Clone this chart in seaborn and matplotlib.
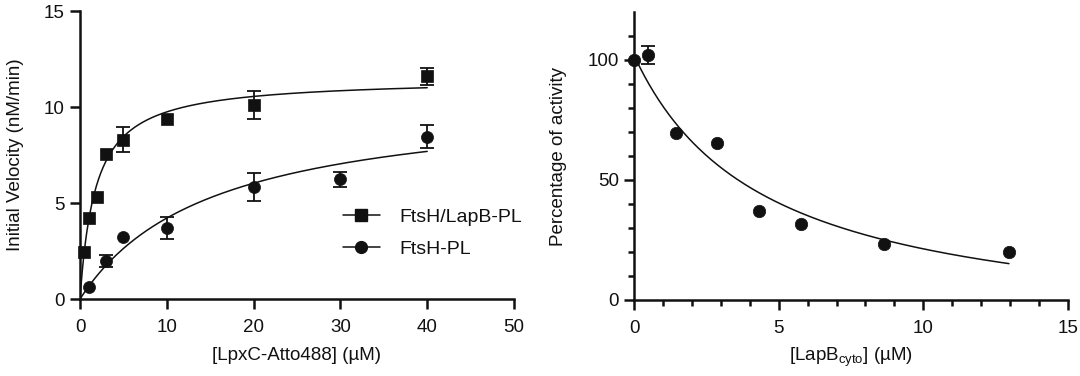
import numpy as np
import pandas as pd
import matplotlib
matplotlib.use("Agg")
import matplotlib.pyplot as plt
import seaborn as sns
from matplotlib.lines import Line2D
from matplotlib.ticker import FixedLocator

# ---------------- Left panel data ----------------
lpxc_conc_lapb = [0.5, 1, 2, 3, 5, 10, 20, 40]
velocity_lapb = [2.45, 4.2, 5.3, 7.55, 8.3, 9.4, 10.1, 11.6]
err_lapb = [0, 0, 0, 0, 0.65, 0, 0.75, 0.43]

lpxc_conc_ftsh = [1, 3, 5, 10, 20, 30, 40]
velocity_ftsh = [0.6, 1.98, 3.22, 3.7, 5.82, 6.24, 8.46]
err_ftsh = [0, 0.3, 0, 0.58, 0.73, 0.4, 0.62]

# Michaelis-Menten fit parameters (Vmax, Km)
fit_lapb = (11.5, 1.8)
fit_ftsh = (10.6, 15.15)

series_labels = ["FtsH/LapB-PL", "FtsH-PL"]

# ---------------- Right panel data ----------------
lapb_cyto_conc = [0, 0.48, 1.44, 2.87, 4.31, 5.76, 8.63, 12.96]
activity_pct = [100, 102.2, 69.7, 65.5, 36.9, 31.5, 23.3, 19.9]
activity_err = [0, 3.7, 0, 0, 0, 0, 0, 0]
# hyperbolic decay fit parameters (top, bottom, K)
fit_inhib = (102, -15, 4.5)

# ---------------- Style ----------------
sns.set_theme(style="ticks")
plt.rcParams["font.family"] = ["Liberation Sans", "DejaVu Sans"]
plt.rcParams["mathtext.fontset"] = "custom"
plt.rcParams["mathtext.rm"] = "Liberation Sans"
FS = 13.5
INK = "#111111"

fig = plt.figure(figsize=(10.8, 3.76), dpi=100)
axL = fig.add_axes([80 / 1080, 1 - 299 / 376, 434 / 1080, 288 / 376])
axR = fig.add_axes([634 / 1080, 1 - 300 / 376, 434 / 1080, 288 / 376])


def style_axis(ax):
    for side in ("top", "right"):
        ax.spines[side].set_visible(False)
    for side in ("left", "bottom"):
        ax.spines[side].set_linewidth(1.8)
        ax.spines[side].set_color(INK)
    ax.tick_params(which="major", length=7.5, width=1.8,
                   labelsize=FS, colors=INK)
    ax.tick_params(axis="x", which="major", pad=7)
    ax.tick_params(axis="y", which="major", pad=3.5)
    ax.tick_params(which="minor", length=4.5, width=1.8, colors=INK)


def mm(x, p):
    v, k = p
    return v * x / (k + x)


# ---------------- Left panel ----------------
for conc, vel, err, fit, marker, ms in [
    (lpxc_conc_lapb, velocity_lapb, err_lapb, fit_lapb, "s", 66),
    (lpxc_conc_ftsh, velocity_ftsh, err_ftsh, fit_ftsh, "o", 75),
]:
    xs = np.linspace(0, 40, 300)
    curve = pd.DataFrame({"x": xs, "y": mm(xs, fit)})
    sns.lineplot(data=curve, x="x", y="y", ax=axL, color=INK, lw=1.1)
    c = np.array(conc, float)
    v = np.array(vel, float)
    e = np.array(err, float)
    m = e > 0
    axL.errorbar(c[m], v[m], yerr=e[m], fmt="none", ecolor=INK,
                 elinewidth=1.3, capsize=5, capthick=1.3, zorder=3)
    df = pd.DataFrame({"x": conc, "y": vel})
    sns.scatterplot(data=df, x="x", y="y", ax=axL, marker=marker, s=ms,
                    color=INK, edgecolor=INK, linewidth=0.5, zorder=4,
                    clip_on=False)

axL.set_xlim(0, 50)
axL.set_ylim(0, 15)
axL.set_xticks([0, 10, 20, 30, 40, 50])
axL.set_yticks([0, 5, 10, 15])
axL.set_xlabel("[LpxC-Atto488] (\u00b5M)", fontsize=FS, color=INK, labelpad=8)
axL.set_ylabel("Initial Velocity (nM/min)", fontsize=FS, color=INK, labelpad=14)
style_axis(axL)

handles = [
    Line2D([], [], color=INK, lw=1.1, marker="s", markersize=8),
    Line2D([], [], color=INK, lw=1.1, marker="o", markersize=8.5),
]
axL.legend(handles, series_labels, loc="center left",
           bbox_to_anchor=(0.605, 0.228), frameon=False, fontsize=14,
           handlelength=1.9, handletextpad=1.0, labelspacing=0.75,
           borderaxespad=0, borderpad=0, labelcolor=INK)

# ---------------- Right panel ----------------
top, bottom, k = fit_inhib
xs = np.linspace(0, max(lapb_cyto_conc), 300)
curve = pd.DataFrame({"x": xs, "y": bottom + (top - bottom) * k / (k + xs)})
sns.lineplot(data=curve, x="x", y="y", ax=axR, color=INK, lw=1.1)
c = np.array(lapb_cyto_conc, float)
v = np.array(activity_pct, float)
e = np.array(activity_err, float)
m = e > 0
axR.errorbar(c[m], v[m], yerr=e[m], fmt="none", ecolor=INK,
             elinewidth=1.3, capsize=5, capthick=1.3, zorder=3)
df = pd.DataFrame({"x": lapb_cyto_conc, "y": activity_pct})
sns.scatterplot(data=df, x="x", y="y", ax=axR, marker="o", s=80,
                color=INK, edgecolor=INK, linewidth=0.5, zorder=4,
                clip_on=False)

axR.set_xlim(0, 15)
axR.set_ylim(0, 120)
axR.set_xticks([0, 5, 10, 15])
axR.set_yticks([0, 50, 100])
axR.xaxis.set_minor_locator(FixedLocator([i for i in range(1, 15) if i % 5]))
axR.yaxis.set_minor_locator(FixedLocator([i for i in range(10, 120, 10) if i % 50]))
axR.set_xlabel("[LapB$_{\\mathregular{cyto}}$] (\u00b5M)", fontsize=FS,
               color=INK, labelpad=6)
axR.set_ylabel("Percentage of activity", fontsize=FS, color=INK, labelpad=15)
style_axis(axR)

fig.savefig("out.png", dpi=100)
